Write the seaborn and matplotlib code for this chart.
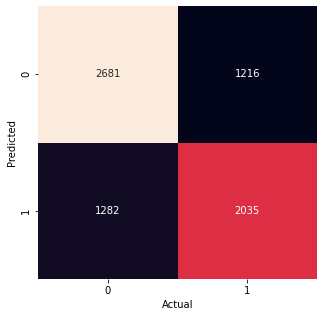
import matplotlib
matplotlib.use("Agg")
import matplotlib.pyplot as plt
import seaborn as sns
import numpy as np
import pandas as pd

labels = [0, 1]
row_pred0 = [2681, 1216]
row_pred1 = [1282, 2035]

cm = pd.DataFrame([row_pred0, row_pred1], index=labels, columns=labels)

fig = plt.figure(figsize=(4.5, 317/72), dpi=72)
ax = fig.add_axes([38/324, 1 - 279/317, 279/324, 273/317])
sns.heatmap(cm, annot=True, fmt="d", cbar=False, cmap="rocket", ax=ax,
            annot_kws={"size": 10})
ax.set_xlabel("Actual", fontsize=10)
ax.set_ylabel("Predicted", fontsize=10)
ax.tick_params(labelsize=10)
fig.savefig("out.png", dpi=72)
